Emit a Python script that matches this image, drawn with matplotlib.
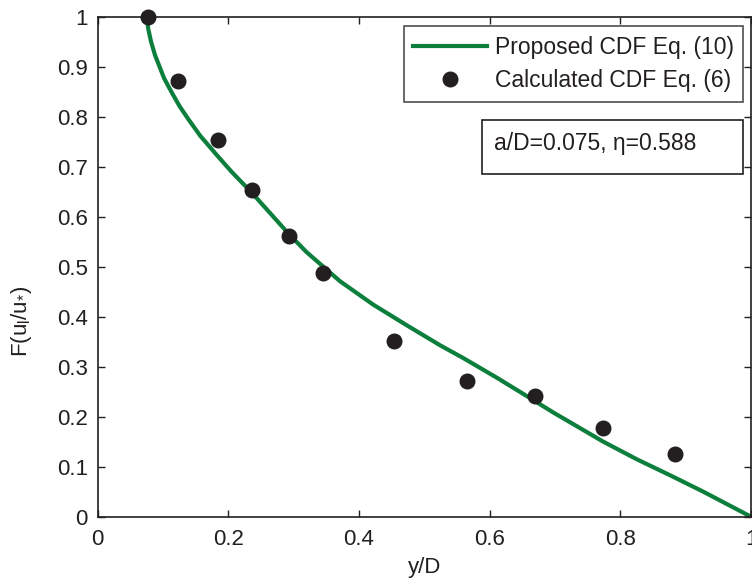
import matplotlib
matplotlib.use('Agg')
import matplotlib.pyplot as plt
from matplotlib.patches import Rectangle

# values
curve_x = [0.0753, 0.0777, 0.0819, 0.088, 0.1018, 0.115, 0.126, 0.139, 0.157,
           0.182, 0.205, 0.236, 0.269, 0.293, 0.320, 0.371, 0.422, 0.473,
           0.524, 0.560, 0.611, 0.646, 0.698, 0.774, 0.825, 0.876, 0.927, 1.0]
curve_y = [1.0, 0.975, 0.950, 0.923, 0.877, 0.845, 0.820, 0.795, 0.762,
           0.724, 0.690, 0.648, 0.600, 0.565, 0.529, 0.471, 0.424, 0.383,
           0.343, 0.317, 0.278, 0.250, 0.208, 0.150, 0.115, 0.083, 0.050, 0.0]

calc_x = [0.077, 0.123, 0.184, 0.236, 0.293, 0.345, 0.454, 0.566, 0.670, 0.774, 0.883]
calc_y = [1.0, 0.871, 0.753, 0.653, 0.562, 0.488, 0.351, 0.272, 0.241, 0.178, 0.125]

xticks = [0, 0.2, 0.4, 0.6, 0.8, 1]
yticks = [0, 0.1, 0.2, 0.3, 0.4, 0.5, 0.6, 0.7, 0.8, 0.9, 1]

ink = '#231f20'
green = '#0b7f3b'

plt.rcParams['font.family'] = ['Liberation Sans', 'DejaVu Sans']
plt.rcParams['mathtext.fontset'] = 'custom'
plt.rcParams['mathtext.rm'] = 'Liberation Sans'
plt.rcParams['mathtext.it'] = 'Liberation Sans'

fig = plt.figure(figsize=(7.52, 5.83), dpi=100)
ax = fig.add_axes([0.1297, 0.1137, 0.869, 0.8577])

ax.plot(curve_x, curve_y, color=green, lw=3, label='Proposed CDF Eq. (10)', zorder=2,
        solid_joinstyle='round')
ax.plot(calc_x, calc_y, 'o', color=ink, ms=10.5, label='Calculated CDF Eq. (6)',
        zorder=3, clip_on=False)

ax.set_xlim(0, 1)
ax.set_ylim(0, 1)
ax.set_xticks(xticks)
ax.set_xticklabels(['0', '0.2', '0.4', '0.6', '0.8', '1'])
ax.set_yticks(yticks)
ax.set_yticklabels(['0', '0.1', '0.2', '0.3', '0.4', '0.5', '0.6', '0.7', '0.8', '0.9', '1'])
ax.tick_params(direction='in', length=5, width=1, colors=ink, labelsize=16,
               top=True, right=True)
ax.tick_params(axis='x', pad=9)
ax.tick_params(axis='y', pad=7)
for s in ax.spines.values():
    s.set_color(ink)
    s.set_linewidth(1.2)

ax.set_xlabel('y/D', fontsize=16, color=ink, labelpad=5)
ax.set_ylabel(r'F(u$_{\mathrm{l}}$/u$_{*}$)', fontsize=16, color=ink)
ax.yaxis.set_label_coords(-0.097, 0.39)

leg = ax.legend(loc='upper right', bbox_to_anchor=(0.988, 0.981), fontsize=16.5,
                frameon=True, fancybox=False, edgecolor=ink, borderpad=0.42,
                handlelength=3.2, handletextpad=0.35, labelspacing=0.45,
                borderaxespad=0)
leg.get_frame().set_linewidth(1.2)
for t in leg.get_texts():
    t.set_color(ink)

# parameter box
ax.add_patch(Rectangle((0.588, 0.685), 0.399, 0.108, transform=ax.transAxes,
                       fill=False, edgecolor=ink, lw=1.2, clip_on=False))
ax.text(0.607, 0.746, 'a/D=0.075, η=0.588', transform=ax.transAxes,
        fontsize=16.5, color=ink, va='center', ha='left')

fig.savefig('out.png', dpi=100)
